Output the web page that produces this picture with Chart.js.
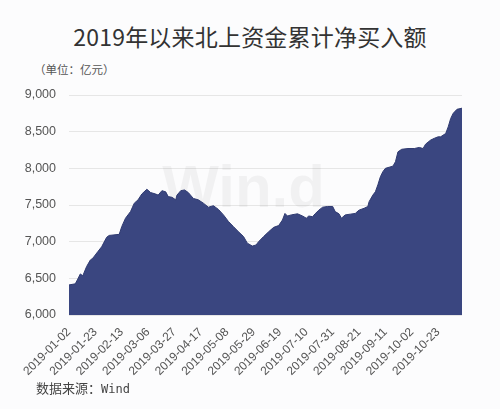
<!DOCTYPE html>
<html>
<head>
<meta charset="utf-8">
<script src="https://cdn.jsdelivr.net/npm/chart.js@4.4.1/dist/chart.umd.min.js"></script>
<style>
  html, body { margin: 0; padding: 0; background: #fcfcfd; }
  #wrap { position: relative; width: 500px; height: 409px; overflow: hidden; }
  #cv { position: absolute; left: 0; top: 0; }
  .title { position: absolute; left: 0; width: 500px; top: 19px; text-align: center;
    font: 23px "Noto Sans CJK SC", sans-serif; color: #333; letter-spacing: 0.2px; }
  .unit { position: absolute; left: 34px; top: 61px; font: 11.5px "Noto Sans CJK SC", sans-serif; color: #555; }
  .src { position: absolute; left: 36px; top: 378px; font: 13px "Noto Sans CJK SC", sans-serif; color: #444; }
  .src span { font-family: "DejaVu Sans Mono", monospace; font-size: 12px; }
</style>
</head>
<body>
<div id="wrap">
  <div class="title">2019年以来北上资金累计净买入额</div>
  <div class="unit">（单位：亿元）</div>
  <canvas id="cv" width="500" height="409"></canvas>
  <div class="src">数据来源：<span>Wind</span></div>
</div>
<script>
// cumulative northbound net buy since 2019-01-02, 亿元
const dates = [
  '2019-01-02','2019-01-07','2019-01-09','2019-01-11','2019-01-13','2019-01-16','2019-01-19','2019-01-21',
  '2019-01-25','2019-01-28','2019-02-01','2019-02-03','2019-02-11','2019-02-13','2019-02-16','2019-02-20',
  '2019-02-23','2019-02-26','2019-03-01','2019-03-05','2019-03-08','2019-03-12','2019-03-14','2019-03-17',
  '2019-03-20','2019-03-22','2019-03-25','2019-03-28','2019-03-29','2019-04-01','2019-04-04','2019-04-07',
  '2019-04-11','2019-04-15','2019-04-19','2019-04-23','2019-04-27','2019-05-01','2019-05-05','2019-05-09',
  '2019-05-13','2019-05-17','2019-05-21','2019-05-24','2019-05-28','2019-05-31','2019-06-02','2019-06-06',
  '2019-06-10','2019-06-14','2019-06-18','2019-06-21','2019-06-23','2019-06-25','2019-06-28','2019-07-03',
  '2019-07-07','2019-07-10','2019-07-12','2019-07-15','2019-07-17','2019-07-20','2019-07-23','2019-07-27',
  '2019-07-31','2019-08-02','2019-08-05','2019-08-07','2019-08-10','2019-08-14','2019-08-18','2019-08-21',
  '2019-08-25','2019-08-28','2019-08-29','2019-09-01','2019-09-03','2019-09-05','2019-09-07','2019-09-09',
  '2019-09-11','2019-09-14','2019-09-17','2019-09-19','2019-09-21','2019-09-24','2019-09-29','2019-10-04',
  '2019-10-08','2019-10-11','2019-10-13','2019-10-17','2019-10-20','2019-10-23','2019-10-25','2019-10-29',
  '2019-10-31','2019-11-02','2019-11-04','2019-11-07','2019-11-11'
];
const netBuy = [
  6410, 6425, 6490, 6560, 6535, 6660, 6750, 6775,
  6865, 6930, 7060, 7085, 7100, 7205, 7320, 7410,
  7525, 7570, 7650, 7715, 7670, 7650, 7635, 7695,
  7680, 7615, 7605, 7570, 7635, 7695, 7705, 7670,
  7590, 7570, 7525, 7470, 7490, 7440, 7365, 7275,
  7205, 7135, 7070, 6980, 6940, 6955, 7000, 7070,
  7135, 7195, 7220, 7295, 7385, 7350, 7365, 7380,
  7350, 7320, 7350, 7340, 7380, 7430, 7470, 7480,
  7480, 7410, 7380, 7320, 7365, 7375, 7385, 7430,
  7455, 7480, 7545, 7635, 7680, 7775, 7885, 7955,
  8000, 8015, 8030, 8090, 8225, 8260, 8270, 8270,
  8285, 8270, 8330, 8385, 8410, 8430, 8430, 8475,
  8565, 8680, 8750, 8805, 8820
];
const tickLabels = [
  '2019-01-02','2019-01-23','2019-02-13','2019-03-06','2019-03-27','2019-04-17','2019-05-08','2019-05-29',
  '2019-06-19','2019-07-10','2019-07-31','2019-08-21','2019-09-11','2019-10-02','2019-10-23'
];
const yTicks = [6000, 6500, 7000, 7500, 8000, 8500, 9000];

const DAY = 86400000;
const t0 = Date.parse(dates[0]);
function dayOf(s) { return Math.round((Date.parse(s) - t0) / DAY); }

const AREA = '#3a4680';

// faint "Win.d" watermark behind the area
const watermark = {
  id: 'watermark',
  beforeDatasetsDraw(chart) {
    const { ctx, chartArea: a } = chart;
    ctx.save();
    ctx.font = 'bold 60px "Liberation Sans", sans-serif';
    ctx.fillStyle = 'rgba(0,0,0,0.045)';
    ctx.textAlign = 'center';
    ctx.textBaseline = 'middle';
    ctx.fillText('Win.d', (a.left + a.right) / 2 - 22, a.top + 95);
    ctx.restore();
  }
};

new Chart(document.getElementById('cv').getContext('2d'), {
  type: 'line',
  data: {
    datasets: [{
      data: dates.map((d, i) => ({ x: dayOf(d), y: netBuy[i] })),
      borderColor: '#2f3a70',
      borderWidth: 1,
      backgroundColor: AREA,
      fill: 'start',
      pointRadius: 0,
      tension: 0
    }]
  },
  options: {
    responsive: false,
    animation: false,
    layout: { padding: { top: 95, right: 38, bottom: 24, left: 0 } },
    plugins: { legend: { display: false }, tooltip: { enabled: false } },
    scales: {
      x: {
        type: 'linear',
        min: 0,
        max: dayOf(dates[dates.length - 1]),
        afterBuildTicks: axis => { axis.ticks = tickLabels.map(s => ({ value: dayOf(s) })); },
        afterFit: axis => { axis.height = 70; },
        grid: { display: false },
        border: { display: false },
        ticks: {
          autoSkip: false, minRotation: 45, maxRotation: 45, padding: 2,
          color: '#555', font: { family: '"Liberation Sans", sans-serif', size: 12 },
          callback: (v, i) => tickLabels[i]
        }
      },
      y: {
        min: 6000,
        max: 9000,
        afterBuildTicks: axis => { axis.ticks = yTicks.map(v => ({ value: v })); },
        afterFit: axis => { axis.width = 69; },
        grid: { color: '#e6e6e6', drawTicks: false },
        border: { display: false },
        ticks: {
          padding: 13, color: '#555',
          font: { family: '"Liberation Sans", sans-serif', size: 12.5 },
          callback: v => v.toLocaleString('en-US')
        }
      }
    }
  },
  plugins: [watermark]
});
</script>
</body>
</html>
